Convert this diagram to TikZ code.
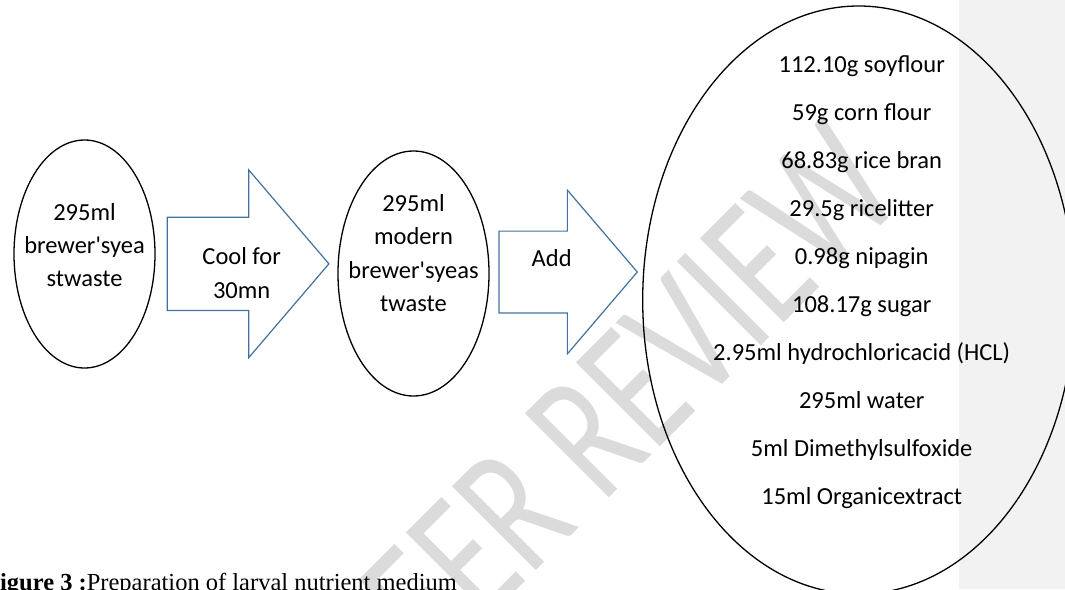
\documentclass[tikz,border=0pt]{standalone}
\usepackage{fontspec}
\setmainfont{Carlito}
\newfontfamily\captionserif{Liberation Serif}
\usetikzlibrary{shapes.geometric, shapes.arrows}

\definecolor{arrowBlue}{RGB}{65,113,156}
\definecolor{bandGray}{RGB}{242,242,242}

\begin{document}
\begin{tikzpicture}[x=1pt, y=1pt, node distance=100pt]
	\tikzstyle{vessel} = [ellipse, draw=black, line width=1.3pt, inner sep=0pt]
	\tikzstyle{blockArrow} = [single arrow, draw=arrowBlue, line width=1.2pt, inner xsep=0pt, single arrow tip angle=99]
	\tikzstyle{words} = [align=center, inner sep=0pt, font=\fontsize{24.5}{33.3}\selectfont]
	\tikzstyle{ingredient} = [inner sep=0pt, text height=17pt, text depth=5pt, node distance=47.96pt, font=\fontsize{24.5}{29}\selectfont]
	\tikzstyle{watermark} = [anchor=base, inner sep=0pt, rotate=45, yscale=1.38, text=black!14, font=\fontsize{134}{134}\selectfont]
	\useasboundingbox (0,0) rectangle (1065,-589);
	\fill [bandGray] (959,0) rectangle (1065,-589);
	\node (peerReview) [watermark] at (648,-459) {PEER REVIEW};
	\node (yeastWaste) [vessel, minimum width=141pt, minimum height=228pt] at (84.5,-254) {};
	\node (yeastText) [words, yshift=9pt] at (yeastWaste.center) {295ml\\brewer\textquotesingle syea\\stwaste};
	\node (coolArrow) [blockArrow, minimum height=161.6pt, inner ysep=46pt, single arrow head extend=47.2pt, right of=yeastWaste, xshift=-17.8pt, yshift=-9.8pt, anchor=tail] {};
	\node (coolText) [words, xshift=75pt, yshift=-9.2pt] at (coolArrow.tail) {Cool for\\30mn};
	\node (modernWaste) [vessel, minimum width=151pt, minimum height=245pt, right of=yeastWaste, xshift=229pt, yshift=-19.5pt] {};
	\node (modernText) [words, yshift=20.5pt] at (modernWaste.center) {295ml\\modern\\brewer\textquotesingle syeas\\twaste};
	\node (addArrow) [blockArrow, minimum height=138.4pt, inner ysep=40.3pt, single arrow head extend=41pt, right of=modernWaste, xshift=-15.2pt, yshift=1.5pt, anchor=tail] {};
	\node (addText) [words, xshift=53.4pt, yshift=14pt] at (addArrow.tail) {Add};
	\node (ingredients) [vessel, minimum width=432pt, minimum height=588pt, right of=modernWaste, xshift=345.2pt, yshift=-26.5pt] {};
	\node (soyFlour) [ingredient, xshift=3pt, yshift=233.3pt] at (ingredients.center) {112.10g soyflour};
	\node (cornFlour) [ingredient, below of=soyFlour] {59g corn flour};
	\node (riceBran) [ingredient, below of=cornFlour] {68.83g rice bran};
	\node (riceLitter) [ingredient, below of=riceBran] {29.5g ricelitter};
	\node (nipagin) [ingredient, below of=riceLitter] {0.98g nipagin};
	\node (sugar) [ingredient, below of=nipagin] {108.17g sugar};
	\node (hcl) [ingredient, below of=sugar] {2.95ml hydrochloricacid (HCL)};
	\node (water) [ingredient, below of=hcl] {295ml water};
	\node (dmso) [ingredient, below of=water] {5ml Dimethylsulfoxide};
	\node (extract) [ingredient, below of=dmso] {15ml Organicextract};
	\node (figCaption) [anchor=base west, inner sep=0pt, font=\captionserif\fontsize{24.5}{29}\selectfont] at (-15,-590) {\textbf{Figure 3 :}Preparation of larval nutrient medium};
\end{tikzpicture}
\end{document}
